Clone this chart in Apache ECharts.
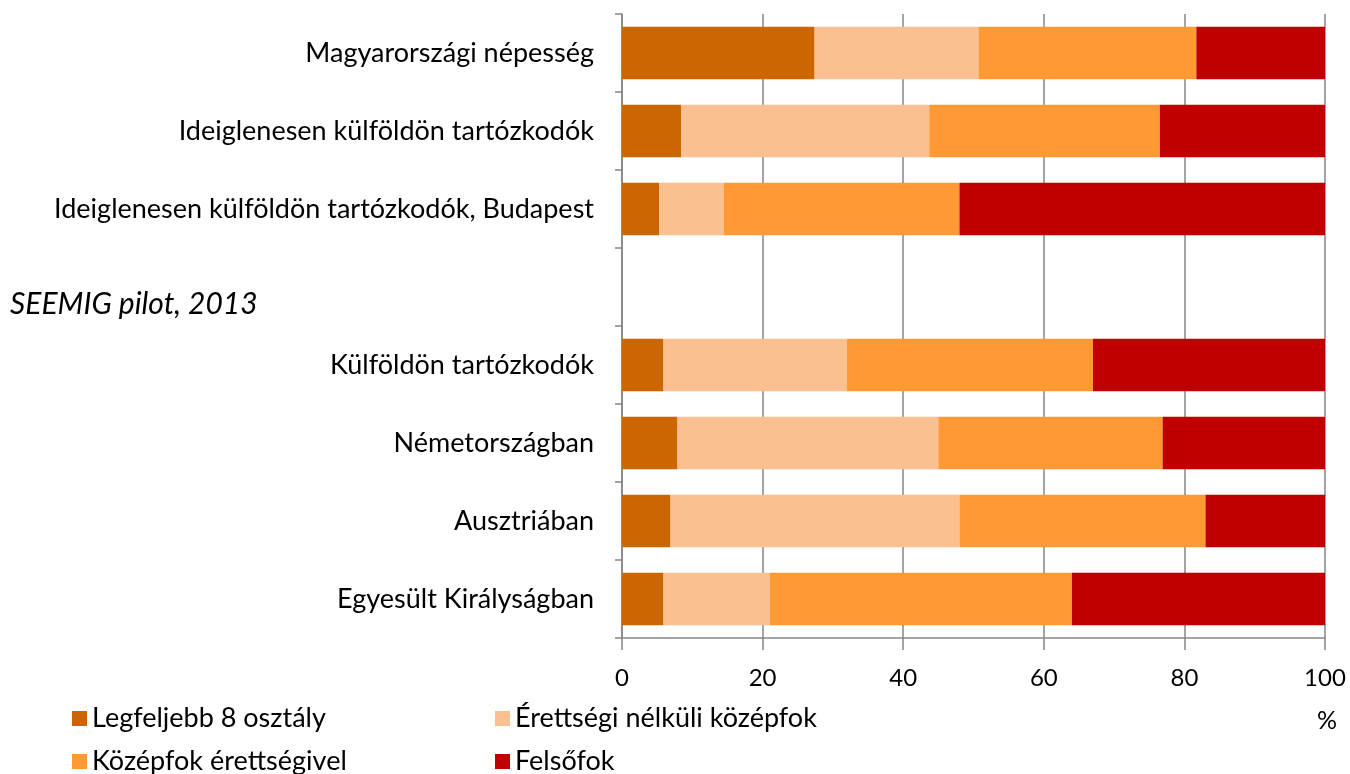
<!DOCTYPE html>
<html>
<head>
<meta charset="utf-8">
<script src="https://cdn.jsdelivr.net/npm/echarts@6/dist/echarts.min.js"></script>
<style>
  html, body { margin: 0; padding: 0; background: #fff; }
  #chart { width: 1350px; height: 774px; }
</style>
</head>
<body>
<div id="chart"></div>
<script>
  // kategóriák (felülről lefelé)
  var categories = [
    'Magyarországi népesség',
    'Ideiglenesen külföldön tartózkodók',
    'Ideiglenesen külföldön tartózkodók, Budapest',
    'SEEMIG pilot, 2013',
    'Külföldön tartózkodók',
    'Németországban',
    'Ausztriában',
    'Egyesült Királyságban'
  ];
  var seriesNames = ['Legfeljebb 8 osztály', 'Érettségi nélküli középfok', 'Középfok érettségivel', 'Felsőfok'];
  var legf8 = [27.4, 8.4, 5.3, null, 5.9, 7.9, 6.9, 5.9];
  var erettsegiNelkul = [23.3, 35.3, 9.2, null, 26.1, 37.1, 41.1, 15.1];
  var erettsegivel = [31.0, 32.8, 33.5, null, 35.0, 31.9, 35.0, 43.0];
  var felsofok = [18.3, 23.5, 52.0, null, 33.0, 23.1, 17.0, 36.0];
  var xTicks = [0, 20, 40, 60, 80, 100];

  var colors = ['#cc6600', '#fac090', '#ff9933', '#c00000'];
  var values = [legf8, erettsegiNelkul, erettsegivel, felsofok];
  var font = 'Lato';
  var axisGray = '#868686';

  var chart = echarts.init(document.getElementById('chart'));

  var legendPos = [
    {left: 67, top: 700},
    {left: 490, top: 700},
    {left: 67, top: 743},
    {left: 490, top: 743}
  ];

  var option = {
    animation: false,
    color: colors,
    grid: {left: 622, right: 25, top: 14, bottom: 136},
    xAxis: {
      type: 'value',
      min: xTicks[0],
      max: xTicks[xTicks.length - 1],
      interval: 20,
      name: '%',
      nameLocation: 'end',
      nameGap: 2,
      nameTextStyle: {
        fontFamily: font, fontSize: 25, color: '#000',
        align: 'center', verticalAlign: 'top', padding: [70, 0, 0, 0]
      },
      axisLine: {show: true, lineStyle: {color: axisGray, width: 1.5}},
      axisTick: {show: true, length: 12, lineStyle: {color: axisGray, width: 1.5}},
      axisLabel: {fontFamily: font, fontSize: 24, color: '#000', margin: 28},
      splitLine: {show: true, lineStyle: {color: axisGray, width: 1.5}}
    },
    yAxis: {
      type: 'category',
      inverse: true,
      data: categories,
      axisLine: {show: true, lineStyle: {color: axisGray, width: 1.5}},
      axisTick: {show: true, length: 7, lineStyle: {color: axisGray, width: 1.5}},
      axisLabel: {
        fontFamily: font, fontSize: 27, color: '#000', margin: 28,
        formatter: function (v) {
          if (v === 'SEEMIG pilot, 2013') return '{sec|' + v + '}';
          return v;
        },
        rich: {
          sec: {
            fontFamily: font, fontSize: 30, fontStyle: 'italic', color: '#000',
            width: 584, align: 'left', padding: [34, 0, 0, 0]
          }
        }
      }
    },
    legend: legendPos.map(function (p, i) {
      return {
        data: [seriesNames[i]],
        left: p.left, top: p.top,
        icon: 'rect', itemWidth: 15, itemHeight: 15, itemGap: 0,
        textStyle: {fontFamily: font, fontSize: 27, color: '#000'}
      };
    }),
    series: seriesNames.map(function (name, i) {
      return {
        name: name,
        type: 'bar',
        stack: 'total',
        barCategoryGap: '33%',
        data: values[i]
      };
    })
  };

  chart.setOption(option);
</script>
</body>
</html>
